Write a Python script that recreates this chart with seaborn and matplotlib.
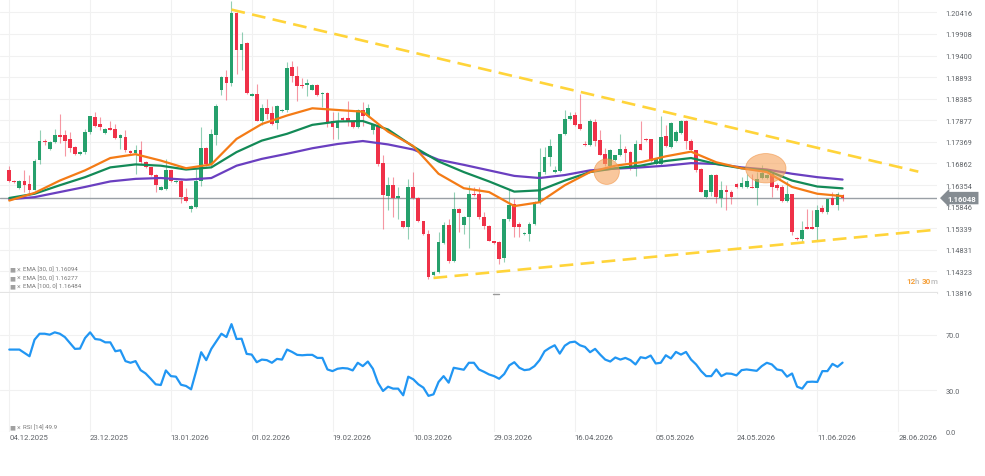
import numpy as np
import seaborn as sns
import matplotlib.pyplot as plt
from matplotlib.patches import Ellipse
from matplotlib.lines import Line2D
import matplotlib.transforms as mtransforms

sns.set_style("white")
plt.rcParams['font.family'] = ['Roboto', 'DejaVu Sans']

# daily EURUSD candles
opens = np.array([
    1.1670, 1.1646, 1.1629, 1.1645, 1.1637, 1.1625, 1.1695, 1.1740, 1.1721, 1.1736,
    1.1752, 1.1752, 1.1743, 1.1725, 1.1709, 1.1713, 1.1760, 1.1795, 1.1779, 1.1758,
    1.1769, 1.1768, 1.1746, 1.1748, 1.1716, 1.1711, 1.1719, 1.1689, 1.1677, 1.1659,
    1.1625, 1.1627, 1.1670, 1.1642, 1.1646, 1.1607, 1.1580, 1.1584, 1.1644, 1.1723,
    1.1684, 1.1754, 1.1860, 1.1889, 1.1875, 1.2040, 1.1954, 1.1970, 1.1846, 1.1850,
    1.1787, 1.1816, 1.1804, 1.1782, 1.1809, 1.1811, 1.1912, 1.1891, 1.1871, 1.1871,
    1.1860, 1.1871, 1.1850, 1.1852, 1.1785, 1.1769, 1.1793, 1.1793, 1.1785, 1.1772,
    1.1812, 1.1797, 1.1765, 1.1777, 1.1687, 1.1609, 1.1636, 1.1606, 1.1550, 1.1537,
    1.1631, 1.1605, 1.1550, 1.1521, 1.1423, 1.1431, 1.1499, 1.1542, 1.1457, 1.1580,
    1.1541, 1.1560, 1.1615, 1.1615, 1.1560, 1.1539, 1.1503, 1.1501, 1.1464, 1.1555,
    1.1591, 1.1544, 1.1520, 1.1521, 1.1544, 1.1594, 1.1666, 1.1701, 1.1666, 1.1668,
    1.1756, 1.1790, 1.1800, 1.1779, 1.1732, 1.1730, 1.1783, 1.1742, 1.1709, 1.1681,
    1.1695, 1.1705, 1.1721, 1.1713, 1.1674, 1.1732, 1.1744, 1.1743, 1.1685, 1.1685,
    1.1750, 1.1725, 1.1738, 1.1758, 1.1787, 1.1740, 1.1717, 1.1674, 1.1607, 1.1620,
    1.1659, 1.1605, 1.1623, 1.1620, 1.1638, 1.1631, 1.1631, 1.1632, 1.1629, 1.1652,
    1.1652, 1.1662, 1.1635, 1.1630, 1.1597, 1.1615, 1.1512, 1.1509, 1.1537, 1.1537,
    1.1537, 1.1581, 1.1573, 1.1605, 1.1589, 1.1611])
highs = np.array([
    1.1681, 1.1648, 1.1647, 1.1670, 1.1658, 1.1697, 1.1764, 1.1744, 1.1738, 1.1768,
    1.1803, 1.1764, 1.1760, 1.1727, 1.1715, 1.1768, 1.1799, 1.1807, 1.1795, 1.1770,
    1.1787, 1.1779, 1.1756, 1.1764, 1.1718, 1.1729, 1.1740, 1.1691, 1.1679, 1.1661,
    1.1634, 1.1697, 1.1672, 1.1648, 1.1648, 1.1629, 1.1588, 1.1674, 1.1772, 1.1725,
    1.1768, 1.1826, 1.1891, 1.1907, 1.2069, 1.2042, 1.1995, 1.1973, 1.1852, 1.1873,
    1.1826, 1.1838, 1.1822, 1.1824, 1.1814, 1.1924, 1.1928, 1.1916, 1.1887, 1.1885,
    1.1873, 1.1873, 1.1854, 1.1855, 1.1807, 1.1807, 1.1795, 1.1834, 1.1787, 1.1815,
    1.1830, 1.1826, 1.1779, 1.1779, 1.1705, 1.1654, 1.1654, 1.1631, 1.1552, 1.1650,
    1.1666, 1.1607, 1.1552, 1.1529, 1.1434, 1.1525, 1.1548, 1.1556, 1.1619, 1.1581,
    1.1562, 1.1636, 1.1631, 1.1631, 1.1572, 1.1541, 1.1505, 1.1503, 1.1556, 1.1627,
    1.1603, 1.1548, 1.1525, 1.1548, 1.1599, 1.1722, 1.1725, 1.1744, 1.1681, 1.1756,
    1.1811, 1.1808, 1.1808, 1.1850, 1.1740, 1.1790, 1.1791, 1.1764, 1.1722, 1.1721,
    1.1707, 1.1756, 1.1727, 1.1715, 1.1742, 1.1787, 1.1747, 1.1744, 1.1699, 1.1797,
    1.1777, 1.1783, 1.1764, 1.1789, 1.1789, 1.1744, 1.1719, 1.1676, 1.1625, 1.1662,
    1.1662, 1.1644, 1.1636, 1.1623, 1.1641, 1.1654, 1.1662, 1.1662, 1.1666, 1.1683,
    1.1662, 1.1664, 1.1641, 1.1635, 1.1644, 1.1615, 1.1514, 1.1552, 1.1578, 1.1576,
    1.1588, 1.1588, 1.1603, 1.1620, 1.1619, 1.1615])
lows = np.array([
    1.1642, 1.1640, 1.1627, 1.1619, 1.1616, 1.1623, 1.1684, 1.1729, 1.1719, 1.1735,
    1.1735, 1.1703, 1.1713, 1.1705, 1.1707, 1.1709, 1.1756, 1.1773, 1.1764, 1.1756,
    1.1764, 1.1744, 1.1721, 1.1714, 1.1709, 1.1662, 1.1685, 1.1675, 1.1656, 1.1619,
    1.1623, 1.1623, 1.1642, 1.1640, 1.1594, 1.1595, 1.1573, 1.1582, 1.1633, 1.1681,
    1.1681, 1.1729, 1.1847, 1.1836, 1.1869, 1.1897, 1.1905, 1.1849, 1.1844, 1.1785,
    1.1777, 1.1791, 1.1777, 1.1768, 1.1807, 1.1808, 1.1877, 1.1834, 1.1863, 1.1846,
    1.1858, 1.1846, 1.1818, 1.1772, 1.1744, 1.1744, 1.1787, 1.1775, 1.1770, 1.1770,
    1.1775, 1.1795, 1.1756, 1.1681, 1.1533, 1.1576, 1.1560, 1.1556, 1.1535, 1.1509,
    1.1603, 1.1548, 1.1519, 1.1415, 1.1421, 1.1429, 1.1497, 1.1453, 1.1454, 1.1525,
    1.1521, 1.1487, 1.1609, 1.1556, 1.1533, 1.1503, 1.1497, 1.1450, 1.1454, 1.1552,
    1.1513, 1.1513, 1.1518, 1.1505, 1.1542, 1.1592, 1.1662, 1.1680, 1.1664, 1.1666,
    1.1754, 1.1789, 1.1775, 1.1766, 1.1727, 1.1727, 1.1727, 1.1705, 1.1681, 1.1680,
    1.1693, 1.1703, 1.1689, 1.1672, 1.1657, 1.1717, 1.1740, 1.1689, 1.1683, 1.1681,
    1.1725, 1.1723, 1.1736, 1.1756, 1.1721, 1.1713, 1.1667, 1.1619, 1.1605, 1.1609,
    1.1594, 1.1584, 1.1576, 1.1590, 1.1629, 1.1629, 1.1629, 1.1628, 1.1588, 1.1649,
    1.1650, 1.1607, 1.1625, 1.1595, 1.1595, 1.1519, 1.1506, 1.1501, 1.1531, 1.1531,
    1.1505, 1.1570, 1.1568, 1.1588, 1.1576, 1.1599])
closes = np.array([
    1.1644, 1.1642, 1.1645, 1.1636, 1.1625, 1.1693, 1.1740, 1.1736, 1.1736, 1.1752,
    1.1748, 1.1738, 1.1723, 1.1709, 1.1713, 1.1760, 1.1797, 1.1775, 1.1773, 1.1768,
    1.1765, 1.1746, 1.1753, 1.1717, 1.1711, 1.1719, 1.1689, 1.1677, 1.1658, 1.1635,
    1.1632, 1.1670, 1.1644, 1.1646, 1.1607, 1.1599, 1.1586, 1.1646, 1.1723, 1.1684,
    1.1756, 1.1822, 1.1889, 1.1875, 1.2040, 1.1954, 1.1967, 1.1851, 1.1850, 1.1787,
    1.1816, 1.1803, 1.1779, 1.1821, 1.1812, 1.1911, 1.1891, 1.1869, 1.1868, 1.1875,
    1.1871, 1.1847, 1.1851, 1.1783, 1.1772, 1.1785, 1.1789, 1.1787, 1.1772, 1.1812,
    1.1797, 1.1816, 1.1777, 1.1685, 1.1611, 1.1636, 1.1605, 1.1609, 1.1537, 1.1631,
    1.1605, 1.1550, 1.1521, 1.1419, 1.1432, 1.1501, 1.1542, 1.1456, 1.1580, 1.1569,
    1.1560, 1.1615, 1.1611, 1.1560, 1.1539, 1.1505, 1.1499, 1.1462, 1.1555, 1.1588,
    1.1537, 1.1537, 1.1523, 1.1544, 1.1595, 1.1666, 1.1701, 1.1727, 1.1670, 1.1756,
    1.1791, 1.1797, 1.1777, 1.1768, 1.1729, 1.1787, 1.1740, 1.1707, 1.1685, 1.1719,
    1.1705, 1.1721, 1.1711, 1.1674, 1.1732, 1.1719, 1.1742, 1.1693, 1.1697, 1.1748,
    1.1727, 1.1781, 1.1761, 1.1787, 1.1740, 1.1717, 1.1670, 1.1620, 1.1623, 1.1659,
    1.1607, 1.1623, 1.1619, 1.1607, 1.1631, 1.1641, 1.1644, 1.1629, 1.1650, 1.1663,
    1.1659, 1.1632, 1.1628, 1.1597, 1.1615, 1.1525, 1.1508, 1.1529, 1.1533, 1.1533,
    1.1577, 1.1572, 1.1603, 1.1589, 1.1615, 1.1605])

# EMAs sampled every 5 candles
ema_step = 5
ema30 = [1.1599, 1.1617, 1.1646, 1.1670, 1.1699, 1.1708, 1.1693, 1.1675, 1.1684, 1.1744,
         1.1779, 1.1799, 1.1816, 1.1812, 1.1808, 1.1761, 1.1727, 1.1662, 1.1628, 1.1619,
         1.1586, 1.1595, 1.1635, 1.1666, 1.1681, 1.1689, 1.1703, 1.1714, 1.1689, 1.1675,
         1.1666, 1.1631, 1.1615, 1.16094]
ema50 = [1.1605, 1.1615, 1.1635, 1.1654, 1.1677, 1.1684, 1.1681, 1.1672, 1.1677, 1.1713,
         1.1740, 1.1756, 1.1777, 1.1785, 1.1786, 1.1766, 1.1726, 1.1691, 1.1666, 1.1644,
         1.1620, 1.1623, 1.1646, 1.1666, 1.1675, 1.1681, 1.1692, 1.1699, 1.1685, 1.1675,
         1.1670, 1.1646, 1.1632, 1.16277]
ema100 = [1.1602, 1.1607, 1.1619, 1.1631, 1.1644, 1.1650, 1.1652, 1.1648, 1.1652, 1.1681,
          1.1697, 1.1709, 1.1722, 1.1732, 1.1739, 1.1731, 1.1719, 1.1695, 1.1683, 1.1670,
          1.1657, 1.1652, 1.1659, 1.1670, 1.1674, 1.1677, 1.1681, 1.1687, 1.1685, 1.1677,
          1.1672, 1.1662, 1.1654, 1.16484]

rsi = [59.3, 59.3, 59.3, 56.9, 54.5, 66.4, 70.7, 70.7, 70.0, 71.7,
       70.7, 68.3, 64.0, 59.8, 60.0, 67.6, 71.7, 66.9, 66.4, 64.5,
       64.5, 58.1, 58.8, 51.0, 49.8, 51.0, 44.5, 42.1, 38.3, 34.3,
       33.8, 44.3, 40.2, 39.8, 34.0, 33.1, 30.7, 43.8, 57.4, 51.7,
       59.8, 65.2, 70.7, 68.3, 77.6, 66.9, 67.1, 56.2, 55.7, 50.2,
       52.1, 51.7, 49.8, 52.6, 52.1, 59.3, 57.6, 55.5, 55.2, 55.5,
       55.5, 53.3, 53.3, 45.0, 43.8, 45.5, 46.0, 45.7, 44.3, 49.8,
       47.4, 50.7, 45.5, 35.5, 29.5, 32.6, 31.2, 31.2, 26.4, 39.8,
       37.9, 34.3, 31.9, 26.0, 27.1, 36.0, 40.2, 35.5, 46.2, 45.5,
       44.8, 49.8, 49.8, 45.0, 43.3, 41.4, 40.2, 38.3, 41.7, 47.9,
       50.2, 46.2, 44.5, 45.0, 47.4, 51.7, 58.1, 60.5, 62.4, 56.4,
       62.1, 64.5, 65.0, 62.4, 61.2, 57.4, 59.8, 55.7, 52.1, 50.7,
       53.6, 52.1, 53.3, 51.7, 48.6, 53.8, 53.1, 55.0, 49.3, 49.8,
       55.2, 52.9, 57.6, 55.7, 57.6, 52.1, 48.6, 43.8, 40.2, 40.2,
       45.0, 40.2, 42.1, 41.9, 40.7, 44.5, 45.0, 44.5, 44.0, 47.4,
       49.8, 48.6, 45.0, 44.3, 39.8, 42.1, 32.6, 31.2, 36.0, 36.2,
       36.0, 43.8, 43.8, 49.0, 46.9, 49.9]

# triangle trendlines (candle index, price)
upper_idx = [44, 180]
upper_price = [1.2048, 1.1667]
lower_idx = [84, 184]
lower_price = [1.1417, 1.1531]

# highlighted EMA crossings (candle index, price)
hl_idx = [118.3, 149.8]
hl_price = [1.1667, 1.1675]

price_ticks = [1.13816, 1.14323, 1.14831, 1.15339, 1.15846, 1.16354, 1.16862,
               1.17369, 1.17877, 1.18385, 1.18893, 1.19400, 1.19908, 1.20416]
rsi_ticks = [0, 30, 70]
date_labels = ['04.12.2025', '23.12.2025', '13.01.2026', '01.02.2026', '19.02.2026',
               '10.03.2026', '29.03.2026', '16.04.2026', '05.05.2026', '24.05.2026',
               '11.06.2026', '28.06.2026']
last_price = 1.16048
ema_labels = ['EMA [30, 0] 1.16094', 'EMA [50, 0] 1.16277', 'EMA [100, 0] 1.16484']
rsi_label = 'RSI [14] 49.9'

GREEN = '#26a06c'
RED = '#ef3148'
C30, C50, C100 = '#f47b16', '#138a57', '#6a3fc0'
GOLD = '#ffd43a'
TXT = '#5f6368'

W, H = 985, 477
fig = plt.figure(figsize=(W / 100, H / 100), dpi=100)
ax = fig.add_axes([0, 1 - 294 / H, 937 / W, 294 / H])
axr = fig.add_axes([0, 1 - 433 / H, 937 / W, 139 / H], sharex=ax)

idx = np.arange(len(closes))
up = closes >= opens
cols = np.where(up, GREEN, RED)
body_lo = np.minimum(opens, closes)
body_h = np.maximum(np.abs(closes - opens), 0.00005)

ax.vlines(idx, lows, highs, colors=cols, lw=0.8, alpha=0.5, zorder=2)
ax.bar(idx, body_h, bottom=body_lo, width=0.75, color=cols, linewidth=0, zorder=3)

ema_idx = np.arange(len(ema30)) * ema_step
for vals, c in [(ema100, C100), (ema50, C50), (ema30, C30)]:
    sns.lineplot(x=ema_idx, y=vals, ax=ax, color=c, lw=1.6, zorder=4,
                 solid_joinstyle='round')

ax.plot(upper_idx, upper_price, color=GOLD, lw=1.9, ls=(0, (5.2, 2.8)), zorder=5)
ax.plot(lower_idx, lower_price, color=GOLD, lw=1.9, ls=(0, (5.2, 2.8)), zorder=5)

ax.add_patch(Ellipse((hl_idx[0], hl_price[0]), 5.0, 0.0060, fc='#f6a25a', ec='#f09040',
                     lw=0.6, alpha=0.6, zorder=6))
ax.add_patch(Ellipse((hl_idx[1], hl_price[1]), 8.0, 0.0069, fc='#f6a25a', ec='#f09040',
                     lw=0.6, alpha=0.6, zorder=6))

ax.axhline(last_price, color='#9aa0a6', lw=1, zorder=1)

ax.set_xlim(-1.84, 183.7)
ax.set_ylim(1.1382, 1.2073)
date_pos = np.arange(len(date_labels)) * 16
ax.set_xticks(date_pos)
ax.yaxis.tick_right()
ax.set_yticks(price_ticks)
ax.set_yticklabels([f'{t:.5f}' for t in price_ticks])
ax.tick_params(axis='y', length=0, pad=6, labelsize=5.3, labelcolor=TXT)
ax.tick_params(axis='x', length=0, labelbottom=False)
ax.grid(True, color='#f1f1f1', lw=0.8)
for s in ['top', 'left', 'right']:
    ax.spines[s].set_visible(False)
ax.spines['bottom'].set_color('#e4e4e4')
ax.spines['bottom'].set_linewidth(1.6)
ax.set_xlabel('')
ax.set_ylabel('')

# price tag
trans = mtransforms.blended_transform_factory(ax.transAxes, ax.transData)
ax.text(1 + 10 / 937, last_price, f'{last_price:.5f}', transform=trans, ha='left', va='center',
        color='white', fontsize=5.6, fontweight='bold', clip_on=False, zorder=10,
        bbox=dict(boxstyle='larrow,pad=0.35', fc='#858c92', ec='none'))

# RSI panel
sns.lineplot(x=idx, y=rsi, ax=axr, color='#2196f3', lw=1.6)
axr.set_ylim(0, 100)
axr.yaxis.tick_right()
axr.set_yticks(rsi_ticks)
axr.set_yticklabels([f'{t:.1f}' for t in rsi_ticks])
axr.tick_params(axis='y', length=0, pad=6, labelsize=5.3, labelcolor=TXT)
axr.set_xticks(date_pos)
axr.set_xticklabels(date_labels, ha='left')
axr.tick_params(axis='x', length=0, pad=1.5, labelsize=5.6, labelcolor=TXT)
axr.grid(True, color='#f1f1f1', lw=0.8)
for s in axr.spines.values():
    s.set_visible(False)
axr.set_xlabel('')
axr.set_ylabel('')

# indicator captions
def caption(ypx, label):
    fig.text(9 / W, 1 - ypx / H, '■', family='DejaVu Sans', fontsize=4.5, color='#a0a0a0', va='center')
    fig.text(17 / W, 1 - ypx / H, '×', fontsize=5, color='#999999', va='center')
    fig.text(23 / W, 1 - ypx / H, label, fontsize=4.4, color='#777777', va='center')

for ypx, lab in zip([270, 278.5, 287], ema_labels):
    caption(ypx, lab)
caption(428, rsi_label)

# countdown
for xpx, s, c in [(906, '12', '#f5a03a'), (915, 'h', '#c4c4c4'), (921.5, '30', '#f5a03a'), (930.5, 'm', '#c4c4c4')]:
    fig.text(xpx / W, 1 - 282 / H, s, fontsize=5.8, color=c, va='center', fontweight='bold')

fig.add_artist(Line2D([493 / W, 499 / W], [1 - 294.5 / H] * 2, color='#9a9a9a', lw=1))

fig.savefig('out.png', dpi=100, facecolor='white')
